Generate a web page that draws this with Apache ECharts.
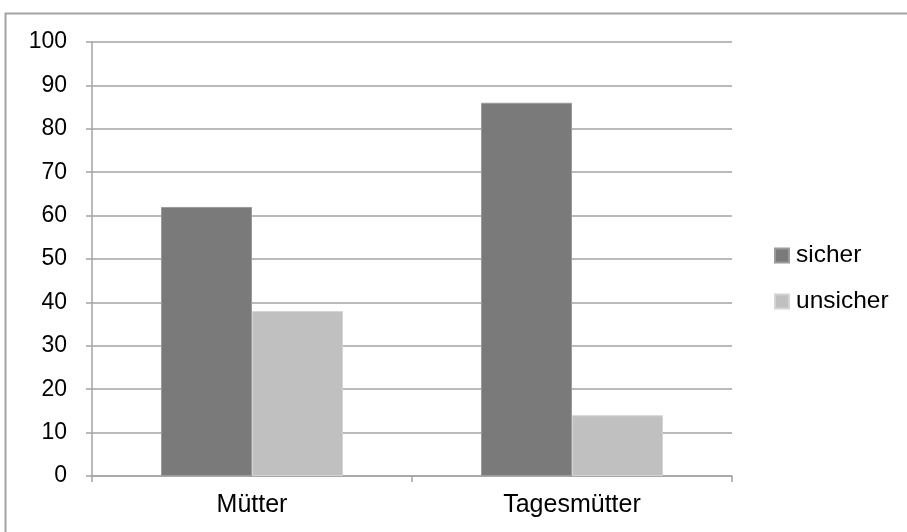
<!DOCTYPE html>
<html>
<head>
<meta charset="utf-8">
<script src="https://cdn.jsdelivr.net/npm/echarts@6/dist/echarts.min.js"></script>
<style>
  html, body { margin: 0; padding: 0; background: #fff; }
  #chart { width: 907px; height: 532px; }
</style>
</head>
<body>
<div id="chart"></div>
<script>
// Chart data
const categories = ['Mütter', 'Tagesmütter'];
const seriesNames = ['sicher', 'unsicher'];
const sicherValues = [62, 86];
const unsicherValues = [38, 14];
const colors = ['#7a7a7a', '#c0c0c0'];

const chart = echarts.init(document.getElementById('chart'));
const font = '"Liberation Sans", Arial, sans-serif';
const lineColor = '#a3a3a3';

const option = {
  backgroundColor: '#fff',
  animation: false,
  textStyle: { fontFamily: font, color: '#000' },
  graphic: [{
    type: 'rect',
    shape: { x: 5.5, y: 13.5, width: 1000, height: 1000 },
    style: { fill: 'none', stroke: lineColor, lineWidth: 2 },
    silent: true
  }],
  grid: { left: 92, right: 175, top: 42, bottom: 56 },
  legend: {
    orient: 'vertical',
    left: 769,
    top: 238,
    icon: 'rect',
    itemWidth: 14,
    itemHeight: 14,
    itemGap: 21,
    textStyle: { fontSize: 24.5, fontFamily: font, color: '#000', padding: [0, 0, 0, 2] },
    data: seriesNames
  },
  xAxis: {
    type: 'category',
    data: categories,
    axisLine: { lineStyle: { color: lineColor, width: 1.5 } },
    axisTick: { show: true, length: 6, lineStyle: { color: lineColor, width: 1.5 } },
    axisLabel: { fontSize: 25, color: '#000', margin: 17, fontFamily: font }
  },
  yAxis: {
    type: 'value',
    min: 0,
    max: 100,
    interval: 10,
    axisLine: { show: true, lineStyle: { color: lineColor, width: 1.5 } },
    axisTick: { show: true, length: 6, lineStyle: { color: lineColor, width: 1.5 } },
    axisLabel: { fontSize: 23, color: '#000', margin: 25, fontFamily: font },
    splitLine: { lineStyle: { color: lineColor, width: 1.5 } }
  },
  series: [
    {
      name: seriesNames[0],
      type: 'bar',
      data: sicherValues,
      barWidth: 91,
      barGap: '0%',
      itemStyle: { color: colors[0], borderColor: '#9a9a9a', borderWidth: 1 }
    },
    {
      name: seriesNames[1],
      type: 'bar',
      data: unsicherValues,
      barWidth: 91,
      barGap: '0%',
      itemStyle: { color: colors[1], borderColor: '#d4d4d4', borderWidth: 1 }
    }
  ]
};

chart.setOption(option);
</script>
</body>
</html>
